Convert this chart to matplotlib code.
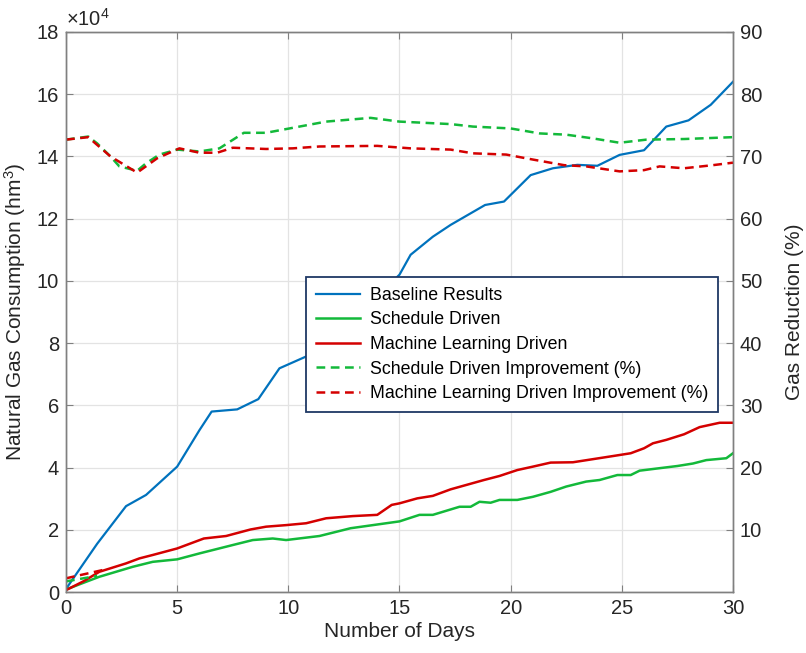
import numpy as np
import matplotlib
matplotlib.use('Agg')
import matplotlib.pyplot as plt

plt.rcParams['font.family'] = ['Liberation Sans', 'DejaVu Sans']
plt.rcParams['mathtext.fontset'] = 'custom'
plt.rcParams['mathtext.rm'] = 'Liberation Sans'
plt.rcParams['mathtext.it'] = 'Liberation Sans:italic'

# Consumo (x10^4 hm3)
dias_base = [0, 1.4, 2.7, 3.6, 5.0, 6.0, 6.55, 7.7, 8.65, 9.6, 10.8, 12.0, 13.0, 14.0, 15.0,
             15.5, 16.5, 17.3, 18.85, 19.7, 20.9, 21.9, 23.0, 23.9, 24.9, 26.0, 27.0, 28.0, 29.0, 30.0]
baseline = [0.1, 1.55, 2.76, 3.12, 4.03, 5.2, 5.8, 5.87, 6.2, 7.19, 7.57, 8.3, 8.9, 9.5, 10.2,
            10.84, 11.42, 11.8, 12.44, 12.55, 13.4, 13.62, 13.73, 13.7, 14.05, 14.2, 14.96, 15.16, 15.66, 16.4]

dias_sched = [0, 0.8, 1.5, 3.0, 3.9, 5.0, 6.0, 7.5, 8.4, 9.3, 9.9, 11.4, 12.8, 15.0, 15.9, 16.5, 17.7,
              18.2, 18.6, 19.1, 19.5, 20.3, 21.0, 21.8, 22.5, 23.4, 24.0, 24.8, 25.4, 25.8, 26.7,
              27.5, 28.2, 28.8, 29.7, 30.0]
schedule = [0.08, 0.3, 0.49, 0.81, 0.97, 1.05, 1.24, 1.51, 1.67, 1.72, 1.67, 1.8, 2.05, 2.27, 2.48, 2.48, 2.74,
            2.74, 2.9, 2.87, 2.96, 2.96, 3.06, 3.22, 3.39, 3.55, 3.6, 3.76, 3.76, 3.9, 3.98,
            4.05, 4.13, 4.24, 4.3, 4.46]

dias_ml = [0, 0.8, 1.5, 2.7, 3.3, 3.9, 5.0, 5.6, 6.2, 7.2, 8.3, 9.0, 9.9, 10.8, 11.7, 12.9, 14.0, 14.65,
           15.0, 15.8, 16.5, 17.3, 18.0, 18.8, 19.5, 20.3, 21.0, 21.8, 22.8, 23.7, 24.6, 25.4,
           26.0, 26.4, 27.0, 27.8, 28.5, 29.4, 30.0]
ml = [0.06, 0.35, 0.65, 0.92, 1.08, 1.19, 1.4, 1.56, 1.72, 1.8, 2.01, 2.1, 2.15, 2.21, 2.37, 2.44, 2.48, 2.8,
      2.85, 3.01, 3.09, 3.3, 3.44, 3.6, 3.73, 3.92, 4.03, 4.16, 4.17, 4.27, 4.37, 4.46,
      4.62, 4.78, 4.89, 5.07, 5.3, 5.44, 5.44]

# Redução (%)
dias_imp_s = [0, 1.0, 1.4, 2.0, 2.4, 3.2, 3.6, 4.2, 5.0, 6.0, 6.9, 8.0, 9.0, 10.5, 11.7, 13.7, 15.0,
              17.3, 18.3, 20.0, 21.3, 22.5, 23.7, 24.9, 26.1, 27.8, 30.0]
imp_sched = [72.7, 73.2, 72.1, 70.0, 68.4, 67.7, 68.9, 70.3, 71.1, 70.8, 71.3, 73.8, 73.8, 74.8, 75.6, 76.2, 75.6,
             75.2, 74.8, 74.5, 73.7, 73.5, 72.9, 72.2, 72.7, 72.8, 73.1]

dias_imp_m = [0, 1.0, 2.0, 3.2, 4.1, 5.1, 6.0, 6.8, 7.5, 9.0, 10.2, 11.4, 14.0, 15.5, 17.3, 18.3, 19.8,
              21.0, 22.4, 23.4, 24.9, 26.0, 26.7, 27.8, 29.1, 30.0]
imp_ml = [72.7, 73.1, 70.0, 67.4, 69.7, 71.3, 70.6, 70.6, 71.4, 71.2, 71.3, 71.6, 71.7, 71.3, 71.1, 70.5, 70.3,
          69.5, 68.6, 68.4, 67.6, 67.8, 68.4, 68.1, 68.6, 69.0]

# trechos iniciais
dias_ini_s = [0, 1.4]
ini_sched = [1.7, 2.6]
dias_ini_m = [0, 1.8]
ini_ml = [2.2, 3.65]

azul = '#0072BD'
verde = '#13B93A'
vermelho = '#D40000'
texto = '#262626'

fig = plt.figure(figsize=(8.06, 6.53), dpi=100)
ax = fig.add_axes([0.0819, 0.0934, 0.8275, 0.8576])
ax2 = ax.twinx()

l1, = ax.plot(dias_base, baseline, color=azul, lw=1.6, label='Baseline Results')
l2, = ax.plot(dias_sched, schedule, color=verde, lw=1.8, label='Schedule Driven')
l3, = ax.plot(dias_ml, ml, color=vermelho, lw=1.8, label='Machine Learning Driven')

tracejado = (0, (3.5, 2.2))
l4, = ax2.plot(dias_imp_s, imp_sched, color=verde, lw=1.8, ls=tracejado,
               label='Schedule Driven Improvement (%)')
l5, = ax2.plot(dias_imp_m, imp_ml, color=vermelho, lw=1.8, ls=tracejado,
               label='Machine Learning Driven Improvement (%)')
ax2.plot(dias_ini_s, ini_sched, color=verde, lw=1.8, ls=tracejado)
ax2.plot(dias_ini_m, ini_ml, color=vermelho, lw=1.8, ls=tracejado)

ax.set_xlim(0, 30)
ax.set_ylim(0, 18)
ax.set_xticks(np.arange(0, 31, 5))
ax.set_yticks(np.arange(0, 19, 2))
ax2.set_ylim(0, 90)
ax2.set_yticks(np.arange(10, 91, 10))

ax.grid(True, color='#e3e3e3', lw=0.9)
ax.set_axisbelow(True)

for a in (ax, ax2):
    for s in a.spines.values():
        s.set_color('#808080')
        s.set_linewidth(1.0)
    a.tick_params(direction='in', length=5, labelcolor=texto, labelsize=14.5, width=0.8,
                  color='#808080', pad=5)
ax.tick_params(top=True)

ax.set_xlabel('Number of Days', fontsize=15, color=texto, labelpad=3)
ax.set_ylabel('Natural Gas Consumption (hm$^3$)', fontsize=15, color=texto, labelpad=6)
ax2.set_ylabel('Gas Reduction (%)', fontsize=15, color=texto, labelpad=16)
ax.text(0.0, 1.004, r'$\times10^{4}$', transform=ax.transAxes, fontsize=14.5,
        color=texto, ha='left', va='bottom')

leg = ax2.legend(handles=[l1, l2, l3, l4, l5], loc='upper left', bbox_to_anchor=(0.36, 0.5625),
                 fontsize=12.8, frameon=True, fancybox=False, handlelength=2.5,
                 borderpad=0.55, labelspacing=0.43, handletextpad=0.55, framealpha=1,
                 borderaxespad=0)
leg.get_frame().set_edgecolor('#1F3864')
leg.get_frame().set_linewidth(1.3)

plt.savefig('out.png', dpi=100)
